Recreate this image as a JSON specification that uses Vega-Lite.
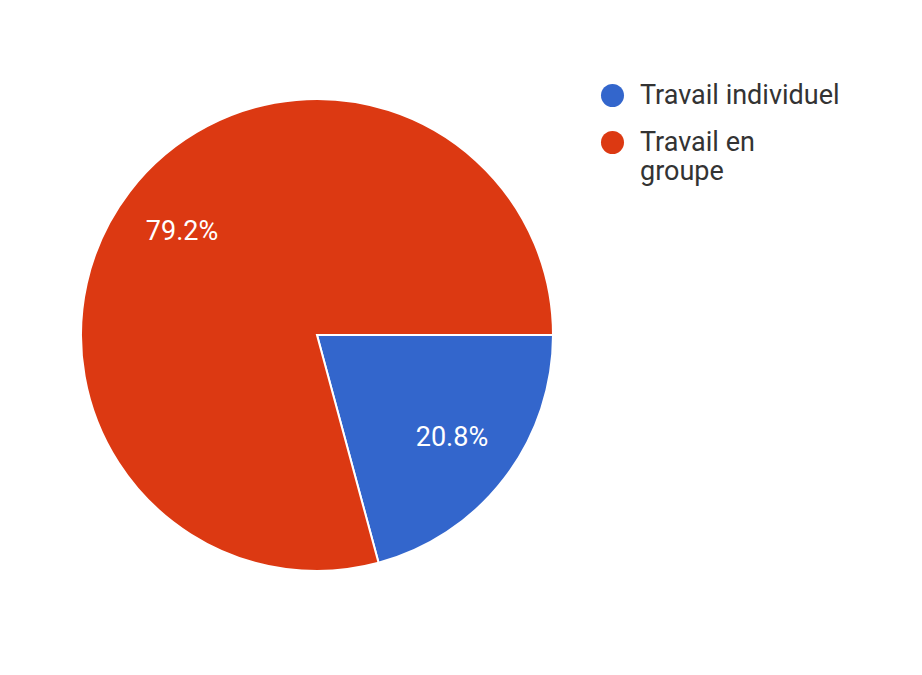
{
  "$schema": "https://vega.github.io/schema/vega-lite/v6.json",
  "width": 634,
  "height": 670,
  "autosize": "none",
  "padding": {"left": 0, "top": 0, "right": 288, "bottom": 5},
  "background": "white",
  "config": {"view": {"stroke": null}, "font": "Roboto"},
  "data": {
    "values": [
      {"type": "Travail individuel", "pct": 20.8, "label": "20.8%", "ord": 1},
      {"type": "Travail en groupe", "pct": 79.2, "label": "79.2%", "ord": 2}
    ]
  },
  "encoding": {
    "theta": {"field": "pct", "type": "quantitative", "stack": true, "scale": {"range": [1.5708, 7.854]}},
    "order": {"field": "ord", "type": "quantitative"}
  },
  "layer": [
    {
      "mark": {"type": "arc", "outerRadius": 236, "stroke": "white", "strokeWidth": 2},
      "encoding": {
        "color": {
          "field": "type",
          "type": "nominal",
          "scale": {"domain": ["Travail individuel", "Travail en groupe"], "range": ["#3366CC", "#DC3912"]},
          "legend": {
            "title": null,
            "orient": "none",
            "legendX": 599,
            "legendY": 82,
            "padding": 0,
            "symbolType": "circle",
            "symbolSize": 530,
            "symbolStrokeWidth": 0,
            "labelFontSize": 27,
            "labelColor": "#333333",
            "labelFont": "Roboto",
            "labelOffset": 14,
            "rowPadding": 19,
            "labelLimit": 300,
            "labelExpr": "datum.label == 'Travail en groupe' ? ['Travail en', 'groupe'] : datum.label"
          }
        }
      }
    },
    {
      "mark": {"type": "text", "radius": 170, "fill": "white", "fontSize": 27, "font": "Roboto"},
      "encoding": {"text": {"field": "label"}}
    }
  ]
}
